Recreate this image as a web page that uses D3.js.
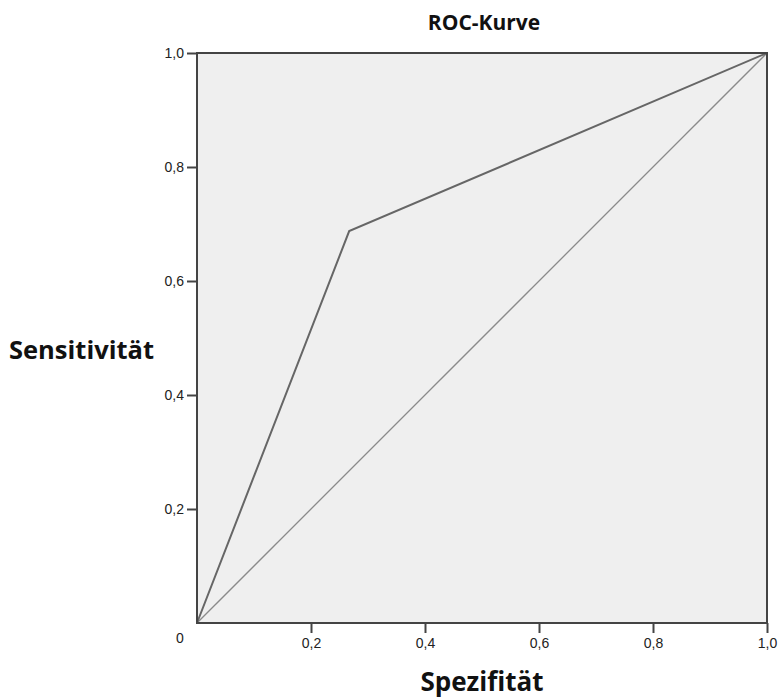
<!DOCTYPE html>
<html>
<head>
<meta charset="utf-8">
<script src="https://cdn.jsdelivr.net/npm/d3@7"></script>
<style>
  body { margin: 0; background: #fff; }
  text { font-family: "Open Sans", "DejaVu Sans", sans-serif; }
</style>
</head>
<body>
<svg id="chart"></svg>
<script>
var width = 778,
    height = 699,
    margin = {top: 53, right: 11, bottom: 76, left: 197};

// ROC curve points (1 - specificity, sensitivity)
var rocX = [0, 0.267, 1];
var rocY = [0, 0.6875, 1];
var diagX = [0, 1];
var diagY = [0, 1];
var tickValues = [0.2, 0.4, 0.6, 0.8, 1.0];

var svg = d3.select("#chart").attr("width", width).attr("height", height);

var x = d3.scaleLinear().domain([0, 1]).range([margin.left, width - margin.right]);
var y = d3.scaleLinear().domain([0, 1]).range([height - margin.bottom, margin.top]);

var fmt = function(d) { return d3.format(".1f")(d).replace(".", ","); };

svg.append("rect")
  .attr("x", x(0)).attr("y", y(1))
  .attr("width", x(1) - x(0)).attr("height", y(0) - y(1))
  .attr("fill", "#efefef");

var xAxis = svg.append("g")
  .attr("transform", "translate(0," + y(0) + ")")
  .call(d3.axisBottom(x).tickValues(tickValues).tickFormat(fmt).tickSize(10).tickPadding(5));
var yAxis = svg.append("g")
  .attr("transform", "translate(" + x(0) + ",0)")
  .call(d3.axisLeft(y).tickValues(tickValues).tickFormat(fmt).tickSize(10).tickPadding(3));

[xAxis, yAxis].forEach(function(g) {
  g.select(".domain").remove();
  g.selectAll(".tick line").attr("stroke", "#444").attr("stroke-width", 2);
  g.selectAll(".tick text").attr("fill", "#222").style("font-size", "14px")
    .style("font-family", "Arial, 'Liberation Sans', sans-serif");
});
yAxis.selectAll(".tick text").attr("dy", "0.35em");

// origin label
svg.append("text")
  .attr("x", x(0) - 17).attr("y", y(0) + 20)
  .attr("text-anchor", "middle")
  .attr("fill", "#222")
  .style("font-size", "14px")
  .style("font-family", "Arial, 'Liberation Sans', sans-serif")
  .text("0");

var line = d3.line()
  .x(function(d) { return x(d[0]); })
  .y(function(d) { return y(d[1]); });

svg.append("path")
  .datum(diagX.map(function(v, i) { return [v, diagY[i]]; }))
  .attr("d", line)
  .attr("fill", "none")
  .attr("stroke", "#8a8a8a")
  .attr("stroke-width", 1.3);

svg.append("path")
  .datum(rocX.map(function(v, i) { return [v, rocY[i]]; }))
  .attr("d", line)
  .attr("fill", "none")
  .attr("stroke", "#666")
  .attr("stroke-width", 2);

// frame
svg.append("rect")
  .attr("x", x(0)).attr("y", y(1))
  .attr("width", x(1) - x(0)).attr("height", y(0) - y(1))
  .attr("fill", "none")
  .attr("stroke", "#444")
  .attr("stroke-width", 2);

svg.append("text")
  .attr("x", 484).attr("y", 30)
  .attr("text-anchor", "middle")
  .style("font-size", "21px").style("font-weight", "bold")
  .attr("fill", "#111")
  .text("ROC-Kurve");

svg.append("text")
  .attr("x", 482).attr("y", 691)
  .attr("text-anchor", "middle")
  .style("font-size", "26px").style("font-weight", "bold")
  .attr("fill", "#111")
  .text("Spezifität");

svg.append("text")
  .attr("x", 9).attr("y", 359)
  .style("font-size", "25.5px").style("font-weight", "bold")
  .attr("fill", "#111")
  .text("Sensitivität");
</script>
</body>
</html>
